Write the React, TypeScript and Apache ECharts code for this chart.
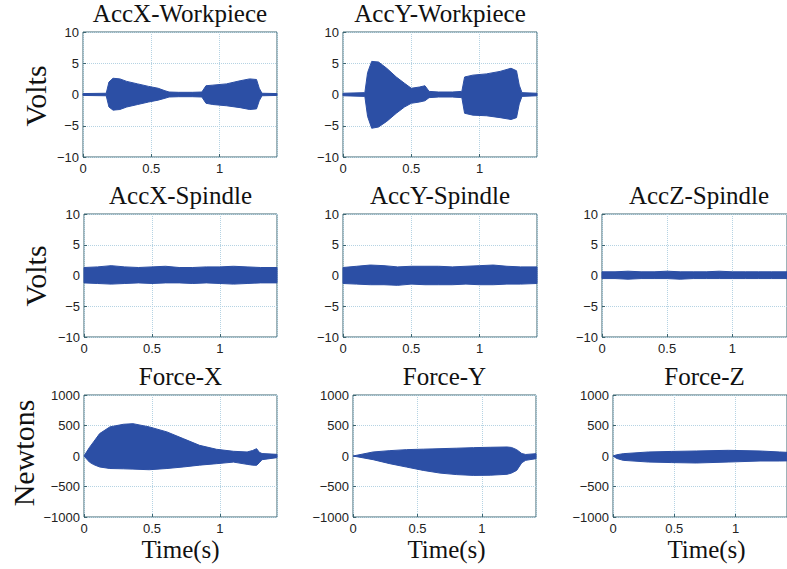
import React, { useEffect, useRef } from "react";
import * as echarts from "echarts";

// ---- Data (envelopes) ----
const accXWpT = [0, 0.17, 0.19, 0.22, 0.27, 0.32, 0.4, 0.48, 0.55, 0.6, 0.63, 0.7, 0.8, 0.87, 0.9, 0.95, 1.05, 1.15, 1.22, 1.27, 1.29, 1.31, 1.42];
const accXWpUp = [0.15, 0.2, 2.0, 2.6, 2.5, 2.1, 1.7, 1.3, 1.0, 0.6, 0.4, 0.35, 0.35, 0.4, 1.4, 1.5, 1.7, 2.2, 2.5, 2.4, 1.0, 0.2, 0.15];
const accXWpLo = [-0.15, -0.2, -2.0, -2.5, -2.4, -2.0, -1.6, -1.2, -0.9, -0.6, -0.4, -0.35, -0.35, -0.4, -1.4, -1.6, -1.8, -2.1, -2.4, -2.3, -1.0, -0.2, -0.15];

const accYWpT = [0, 0.16, 0.18, 0.21, 0.26, 0.32, 0.39, 0.45, 0.5, 0.56, 0.6, 0.63, 0.7, 0.8, 0.87, 0.89, 0.95, 1.05, 1.15, 1.23, 1.27, 1.29, 1.31, 1.42];
const accYWpUp = [0.2, 0.3, 3.5, 5.3, 5.2, 4.2, 2.8, 1.8, 1.0, 1.2, 1.4, 0.5, 0.4, 0.4, 0.5, 2.8, 3.1, 3.3, 3.7, 4.2, 3.8, 1.5, 0.3, 0.2];
const accYWpLo = [-0.2, -0.3, -3.5, -5.4, -5.2, -4.3, -3.0, -2.0, -1.4, -1.2, -1.0, -0.5, -0.4, -0.4, -0.5, -3.0, -3.3, -3.4, -3.7, -4.0, -3.7, -1.5, -0.3, -0.2];

const accXSpT = [0, 0.1, 0.2, 0.3, 0.4, 0.5, 0.6, 0.7, 0.8, 0.9, 1.0, 1.1, 1.2, 1.3, 1.42];
const accXSpUp = [1.3, 1.4, 1.6, 1.4, 1.3, 1.4, 1.5, 1.3, 1.3, 1.4, 1.4, 1.5, 1.4, 1.3, 1.3];
const accXSpLo = [-1.2, -1.3, -1.4, -1.3, -1.2, -1.3, -1.2, -1.2, -1.3, -1.2, -1.3, -1.4, -1.3, -1.2, -1.2];

const accYSpT = [0, 0.1, 0.2, 0.3, 0.4, 0.5, 0.6, 0.7, 0.8, 0.9, 1.0, 1.1, 1.2, 1.3, 1.42];
const accYSpUp = [1.3, 1.5, 1.7, 1.6, 1.4, 1.5, 1.5, 1.5, 1.4, 1.5, 1.6, 1.7, 1.5, 1.4, 1.4];
const accYSpLo = [-1.3, -1.4, -1.5, -1.5, -1.6, -1.4, -1.5, -1.5, -1.5, -1.4, -1.5, -1.5, -1.4, -1.4, -1.3];

const accZSpT = [0, 0.1, 0.2, 0.3, 0.4, 0.5, 0.6, 0.7, 0.8, 0.9, 1.0, 1.1, 1.2, 1.3, 1.42];
const accZSpUp = [0.6, 0.6, 0.7, 0.6, 0.6, 0.7, 0.6, 0.6, 0.6, 0.7, 0.6, 0.6, 0.6, 0.6, 0.6];
const accZSpLo = [-0.5, -0.5, -0.6, -0.5, -0.5, -0.5, -0.6, -0.5, -0.5, -0.5, -0.5, -0.5, -0.5, -0.5, -0.5];

const forceXT = [0, 0.04, 0.07, 0.115, 0.19, 0.29, 0.36, 0.48, 0.61, 0.73, 0.85, 0.975, 1.1, 1.2, 1.24, 1.27, 1.29, 1.31, 1.42];
const forceXUp = [0, 140, 230, 367, 477, 520, 530, 477, 395, 285, 175, 110, 77, 66, 90, 120, 60, 40, 27];
const forceXLo = [0, -100, -140, -180, -205, -210, -215, -225, -205, -180, -150, -126, -100, -137, -150, -153, -110, -60, -27];

const forceYT = [0, 0.156, 0.286, 0.415, 0.545, 0.675, 0.805, 0.935, 1.065, 1.195, 1.23, 1.27, 1.31, 1.34, 1.42];
const forceYUp = [0, 66, 88, 104, 112, 120, 128, 137, 143, 148, 140, 104, 40, 25, 38];
const forceYLo = [0, -60, -126, -181, -236, -280, -305, -318, -315, -300, -280, -236, -110, -71, -44];

const forceZT = [0, 0.03, 0.083, 0.29, 0.48, 0.68, 0.94, 1.2, 1.36, 1.42];
const forceZUp = [0, 20, 38, 66, 75, 82, 93, 82, 66, 60];
const forceZLo = [0, -40, -71, -99, -108, -115, -99, -82, -82, -80];

const voltTicks = [-10, 10, 5];
const forceTicks = [-1000, 1000, 500];
const timeMax = 1.42;

const titles = ["AccX-Workpiece", "AccY-Workpiece", "AccX-Spindle", "AccY-Spindle", "AccZ-Spindle", "Force-X", "Force-Y", "Force-Z"];

const panels = [
  { t: accXWpT, up: accXWpUp, lo: accXWpLo, y: voltTicks },
  { t: accYWpT, up: accYWpUp, lo: accYWpLo, y: voltTicks },
  { t: accXSpT, up: accXSpUp, lo: accXSpLo, y: voltTicks },
  { t: accYSpT, up: accYSpUp, lo: accYSpLo, y: voltTicks },
  { t: accZSpT, up: accZSpUp, lo: accZSpLo, y: voltTicks },
  { t: forceXT, up: forceXUp, lo: forceXLo, y: forceTicks },
  { t: forceYT, up: forceYUp, lo: forceYLo, y: forceTicks },
  { t: forceZT, up: forceZUp, lo: forceZLo, y: forceTicks },
];

// layout (pixel boxes of each plot area)
const boxes = [
  { left: 83, top: 32, width: 194, height: 125 },
  { left: 343, top: 32, width: 194, height: 125 },
  { left: 84, top: 214, width: 193, height: 123 },
  { left: 343, top: 214, width: 194, height: 123 },
  { left: 602, top: 214, width: 194, height: 123 },
  { left: 84, top: 395, width: 193, height: 122 },
  { left: 353, top: 395, width: 183, height: 122 },
  { left: 613, top: 395, width: 183, height: 122 },
];

const SIG = "#2c4fa5";
const FRAME = "#3d6672";
const SERIF = "'Liberation Serif', 'Times New Roman', serif";
const SANS = "'Liberation Sans', Arial, sans-serif";

function fmtNum(v: number) {
  if (v < 0) return "\u2212" + Math.abs(v);
  return String(v);
}

export default function App() {
  const ref = useRef<HTMLDivElement>(null);
  useEffect(() => {
    if (!ref.current) return;
    const chart = echarts.init(ref.current, undefined, { renderer: "svg" });
    const grid: any[] = [];
    const xAxis: any[] = [];
    const yAxis: any[] = [];
    const series: any[] = [];
    const graphic: any[] = [];
    panels.forEach((p, i) => {
      const b = boxes[i];
      grid.push({ ...b, show: true, borderColor: FRAME, borderWidth: 1, containLabel: false });
      xAxis.push({
        type: "value",
        gridIndex: i,
        min: 0,
        max: timeMax,
        interval: 0.5,
        axisLine: { show: false, onZero: false },
        axisTick: { show: true, inside: true, length: 3, lineStyle: { color: FRAME } },
        axisLabel: {
          showMaxLabel: false,
          margin: 5,
          fontFamily: SANS,
          fontSize: 13,
          color: "#222",
          formatter: (v: number) => fmtNum(v),
        },
        splitLine: { show: true, lineStyle: { type: "dotted", color: "#b5d3e3", width: 1 } },
      });
      yAxis.push({
        type: "value",
        gridIndex: i,
        min: p.y[0],
        max: p.y[1],
        interval: p.y[2],
        axisLine: { show: false, onZero: false },
        axisTick: { show: true, inside: true, length: 3, lineStyle: { color: FRAME } },
        axisLabel: {
          margin: 4,
          fontFamily: SANS,
          fontSize: 13,
          color: "#222",
          formatter: (v: number) => fmtNum(v),
        },
        splitLine: { show: true, lineStyle: { type: "dotted", color: "#b5d3e3", width: 1 } },
      });
      // envelope band: polygon from upper edge forward, lower edge backward
      const rows = p.t.map((x, k) => [x, p.up[k], p.lo[k]]);
      series.push({
        type: "custom",
        xAxisIndex: i,
        yAxisIndex: i,
        silent: true,
        data: [0],
        renderItem: (_params: any, api: any) => {
          const pts: number[][] = [];
          rows.forEach((r) => pts.push(api.coord([r[0], r[1]])));
          for (let k = rows.length - 1; k >= 0; k--) pts.push(api.coord([rows[k][0], rows[k][2]]));
          return {
            type: "polygon",
            shape: { points: pts },
            style: { fill: SIG, stroke: SIG, lineWidth: 1 },
          };
        },
      });
      graphic.push({
        type: "text",
        x: b.left + b.width / 2,
        y: b.top - 6,
        style: {
          text: titles[i],
          font: `25px ${SERIF}`,
          fill: "#111",
          textAlign: "center",
          textVerticalAlign: "bottom",
        },
      });
    });
    // y axis names
    const yNames = [
      { text: "Volts", x: 35, y: 96 },
      { text: "Volts", x: 35, y: 276 },
      { text: "Newtons", x: 23, y: 453 },
    ];
    yNames.forEach((n) => {
      graphic.push({
        type: "text",
        x: n.x,
        y: n.y,
        rotation: Math.PI / 2,
        style: {
          text: n.text,
          font: `30px ${SERIF}`,
          fill: "#111",
          textAlign: "center",
          textVerticalAlign: "middle",
        },
      });
    });
    [5, 6, 7].forEach((i) => {
      const b = boxes[i];
      graphic.push({
        type: "text",
        x: b.left + b.width / 2 + (i === 5 ? 0 : 2),
        y: 562,
        style: {
          text: "Time(s)",
          font: `25px ${SERIF}`,
          fill: "#111",
          textAlign: "center",
          textVerticalAlign: "bottom",
        },
      });
    });
    chart.setOption({
      animation: false,
      backgroundColor: "#ffffff",
      grid,
      xAxis,
      yAxis,
      series,
      graphic,
    });
    return () => chart.dispose();
  }, []);
  return (
    <div
      ref={ref}
      style={{ position: "fixed", left: 0, top: 0, width: 787, height: 569 }}
    />
  );
}
